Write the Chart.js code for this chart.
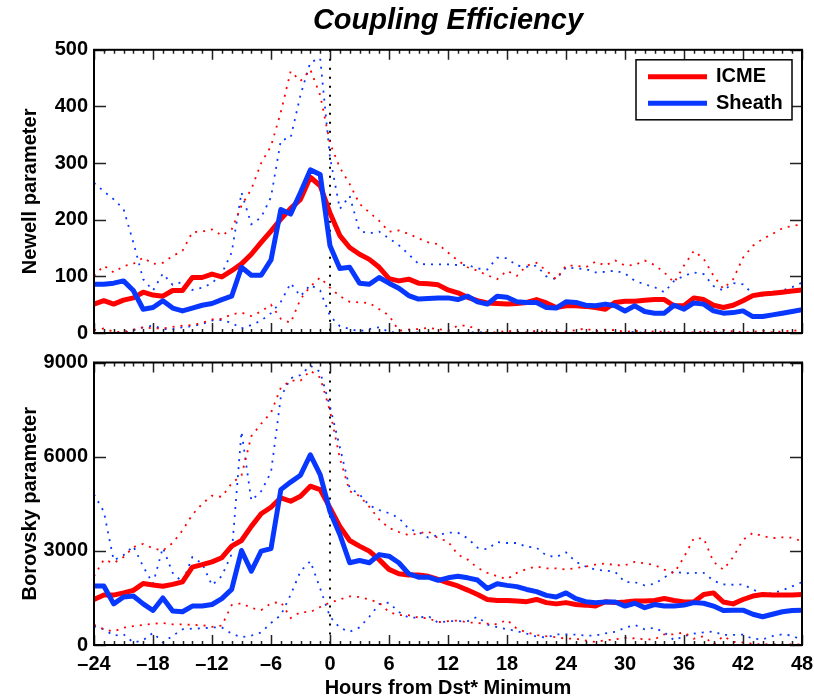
<!DOCTYPE html>
<html lang="en">
<head>
  <meta charset="UTF-8" />
  <title>Coupling Efficiency</title>
  <script src="https://cdn.jsdelivr.net/npm/chart.js"></script>
  <style>
    html, body { margin: 0; padding: 0; background: #fff; }
    #wrap { position: relative; width: 814px; height: 698px; }
    #newellChart { position: absolute; left: 0; top: 0; }
    #borovskyChart { position: absolute; left: 0; top: 345px; }
  </style>
</head>
<body>
  <div id="wrap">
    <canvas id="newellChart" width="814" height="345"></canvas>
    <canvas id="borovskyChart" width="814" height="353"></canvas>
  </div>

  <script>
    // hours from Dst* minimum
    const hours = [-24, -23, -22, -21, -20, -19, -18, -17, -16, -15, -14, -13, -12, -11, -10, -9, -8, -7, -6, -5, -4, -3, -2, -1, 0,
      1, 2, 3, 4, 5, 6, 7, 8, 9, 10, 11, 12, 13, 14, 15, 16, 17, 18, 19, 20, 21, 22, 23, 24,
      25, 26, 27, 28, 29, 30, 31, 32, 33, 34, 35, 36, 37, 38, 39, 40, 41, 42, 43, 44, 45, 46, 47, 48];

    const xTicks = [-24, -18, -12, -6, 0, 6, 12, 18, 24, 30, 36, 42, 48];
    const newellTicks = [0, 100, 200, 300, 400, 500];
    const borovskyTicks = [0, 3000, 6000, 9000];

    // Newell parameter (top panel)
    const newellIcme = [51, 57, 51, 58, 62, 72, 67, 65, 75, 75, 98, 98, 104, 99, 110, 122, 139, 160, 180, 201, 220, 236, 275, 260, 212,
      172, 151, 139, 130, 116, 96, 92, 95, 88, 87, 85, 76, 71, 63, 57, 53, 52, 51, 52, 54, 59, 53, 45, 48,
      48, 47, 45, 42, 54, 56, 56, 58, 59, 59, 48, 48, 62, 59, 49, 45, 49, 57, 66, 69, 70, 72, 74, 76];
    const newellSheath = [86, 86, 88, 92, 75, 42, 45, 57, 44, 39, 44, 49, 52, 59, 65, 116, 102, 102, 129, 218, 210, 248, 288, 280, 154,
      114, 116, 88, 86, 98, 88, 79, 66, 60, 61, 62, 62, 59, 65, 55, 51, 65, 63, 55, 54, 54, 45, 44, 55,
      54, 49, 48, 51, 48, 39, 48, 38, 35, 35, 49, 42, 53, 51, 39, 35, 36, 39, 29, 29, 32, 35, 38, 41];
    const newellIcmeHi = [101, 119, 107, 118, 122, 133, 122, 124, 136, 145, 178, 179, 183, 172, 183, 225, 254, 300, 330, 390, 462, 445, 465, 420, 335,
      292, 263, 228, 213, 198, 179, 181, 175, 167, 160, 157, 142, 128, 116, 110, 102, 95, 110, 101, 119, 124, 110, 95, 119,
      119, 116, 126, 119, 128, 119, 120, 128, 120, 107, 89, 119, 145, 131, 101, 78, 95, 133, 154, 166, 175, 185, 189, 192];
    const newellIcmeLo = [5, 8, 2, 2, 6, 10, 8, 8, 11, 13, 14, 18, 24, 25, 33, 36, 30, 38, 50, 25, 18, 60, 82, 98, 80,
      65, 55, 54, 53, 42, 31, 4, 6, 7, 9, 7, 4, 13, 13, 6, 1, 1, 4, 2, 1, 4, 1, 1, 3,
      5, 8, 3, 6, 5, 2, 4, 1, 3, 2, 0, 2, 1, 3, 0, 5, 3, 1, 2, 4, 1, 3, 4, 5];
    const newellSheathHi = [265, 250, 236, 219, 160, 95, 75, 105, 85, 90, 76, 80, 88, 105, 142, 248, 192, 204, 240, 340, 345, 420, 478, 485, 310,
      219, 242, 180, 176, 179, 167, 155, 139, 122, 121, 121, 121, 120, 120, 114, 112, 133, 132, 119, 117, 119, 100, 95, 116,
      114, 113, 107, 108, 110, 105, 92, 86, 81, 72, 92, 101, 107, 104, 83, 75, 88, 86, 69, 66, 69, 75, 81, 89];
    const newellSheathLo = [0, 0, 0, 0, 5, 10, 13, 7, 7, 10, 12, 16, 22, 23, 18, 8, 14, 22, 35, 55, 88, 65, 85, 75, 30,
      12, 7, 3, 7, 10, 2, 0, 0, 1, 0, 0, 1, 0, 0, 2, 0, 0, 0, 0, 0, 1, 0, 0, 0,
      0, 0, 1, 0, 0, 0, 2, 0, 0, 1, 0, 0, 0, 0, 0, 1, 0, 0, 0, 0, 0, 0, 0, 0];

    // Borovsky parameter (bottom panel)
    const borovskyIcme = [1450, 1590, 1590, 1660, 1740, 1960, 1910, 1870, 1930, 2010, 2480, 2560, 2650, 2780, 3150, 3330, 3780, 4180, 4390, 4690, 4580, 4740, 5060, 4950, 4370,
      3780, 3330, 3150, 2990, 2720, 2410, 2270, 2230, 2230, 2190, 2090, 1980, 1880, 1750, 1610, 1450, 1420, 1420, 1400, 1380, 1450, 1350, 1310, 1350,
      1290, 1270, 1240, 1380, 1350, 1370, 1400, 1400, 1420, 1480, 1420, 1370, 1370, 1610, 1660, 1370, 1310, 1450, 1560, 1610, 1590, 1590, 1590, 1610];
    const borovskySheath = [1880, 1880, 1310, 1530, 1560, 1310, 1100, 1500, 1080, 1060, 1240, 1240, 1290, 1480, 1770, 3010, 2350, 2990, 3070, 4950, 5190, 5410, 6060, 5430, 4250,
      3520, 2620, 2690, 2620, 2880, 2830, 2620, 2270, 2160, 2160, 2060, 2140, 2190, 2140, 2070, 1800, 1950, 1900, 1860, 1770, 1700, 1580, 1530, 1660,
      1480, 1380, 1350, 1370, 1370, 1240, 1330, 1190, 1290, 1240, 1240, 1270, 1350, 1330, 1240, 1100, 1110, 1110, 980, 900, 980, 1060, 1100, 1110];
    const borovskyIcmeHi = [2190, 2720, 2610, 2800, 3120, 3220, 3080, 3010, 3250, 3650, 4150, 4500, 4760, 4720, 5150, 5400, 6650, 7050, 7400, 8200, 8420, 8420, 8740, 8520, 7450,
      5950, 4900, 4750, 4400, 4000, 3730, 3600, 3500, 3550, 3620, 3400, 3300, 2880, 2720, 2460, 2300, 2190, 2100, 2300, 2420, 2500, 2440, 2440, 2400,
      2450, 2500, 2560, 2600, 2540, 2540, 2650, 2600, 2550, 2400, 2290, 2800, 3400, 3400, 2650, 2400, 2800, 3350, 3570, 3470, 3400, 3430, 3420, 3300];
    const borovskyIcmeLo = [650, 500, 430, 550, 600, 640, 680, 700, 660, 660, 640, 630, 580, 620, 1270, 1330, 1180, 1110, 1330, 1370, 860, 1050, 1050, 1210, 1350,
      1450, 1550, 1530, 1450, 1350, 1050, 950, 950, 870, 850, 730, 760, 780, 720, 700, 680, 660, 800, 520, 400, 320, 280, 250, 200,
      200, 140, 100, 150, 180, 230, 210, 180, 180, 340, 340, 400, 200, 280, 20, 280, 100, 80, 40, 20, 30, 20, 20, 20];
    const borovskySheathHi = [4800, 4250, 2700, 2860, 3150, 2500, 1950, 3100, 2300, 2000, 2800, 2600, 1900, 2200, 2900, 6800, 4600, 4900, 5500, 7900, 8500, 8600, 8900, 8700, 7600,
      6300, 5000, 4800, 4450, 4300, 4200, 4050, 3700, 3600, 3420, 3500, 3580, 3580, 3400, 3100, 3050, 3280, 3250, 3250, 3130, 3100, 2850, 2800, 2950,
      2650, 2500, 2400, 2370, 2330, 2000, 2000, 1900, 1950, 2150, 2350, 2280, 2300, 2300, 2050, 1930, 1920, 1930, 1770, 1630, 1650, 1740, 1870, 2000];
    const borovskySheathLo = [600, 500, 300, 340, 80, 150, 390, 80, 290, 500, 520, 530, 560, 560, 360, 250, 300, 400, 700, 950, 1600, 2350, 2670, 1800, 900,
      550, 420, 560, 900, 1300, 1350, 1050, 870, 870, 920, 710, 760, 760, 760, 900, 650, 570, 500, 445, 360, 270, 240, 340, 340,
      330, 300, 300, 370, 420, 550, 640, 500, 550, 400, 150, 280, 360, 400, 430, 320, 320, 330, 200, 180, 280, 340, 300, 150];

    const RED = "rgb(255, 0, 0)";
    const BLUE = "rgb(8, 56, 255)";
    const FONT = "'Liberation Sans', Arial, Helvetica, sans-serif";

    Chart.defaults.font.family = FONT;
    Chart.defaults.color = "#000";

    const pts = (ys) => hours.map((h, i) => ({ x: h, y: ys[i] }));

    function mainLine(label, ys, color, order) {
      return { label: label, data: pts(ys), borderColor: color, backgroundColor: color,
        borderWidth: 5, pointRadius: 0, tension: 0, borderJoinStyle: "round", order: order };
    }
    function dotLine(ys, color) {
      return { label: "", data: pts(ys), borderColor: color, borderWidth: 1.8,
        borderDash: [2, 6], pointRadius: 0, tension: 0, order: 5, quartile: true };
    }

    // frame, inward ticks (MATLAB style) and the dotted line at t = 0
    const frame = {
      id: "frame",
      beforeDatasetsDraw(chart) {
        const { ctx, chartArea: a, scales: { x } } = chart;
        const px = x.getPixelForValue(0);
        ctx.save();
        ctx.strokeStyle = "#000";
        ctx.lineWidth = 2;
        ctx.setLineDash([2, 7]);
        ctx.beginPath();
        ctx.moveTo(px, a.top);
        ctx.lineTo(px, a.bottom);
        ctx.stroke();
        ctx.restore();
      },
      afterDatasetsDraw(chart) {
        const { ctx, chartArea: a, scales: { x, y } } = chart;
        ctx.save();
        ctx.strokeStyle = "#222";
        ctx.lineWidth = 1.5;
        ctx.beginPath();
        for (let h = x.min; h <= x.max; h++) {
          const px = Math.round(x.getPixelForValue(h)) + 0.5;
          const len = h % 6 === 0 ? 10 : 4;
          ctx.moveTo(px, a.top); ctx.lineTo(px, a.top + len);
          ctx.moveTo(px, a.bottom); ctx.lineTo(px, a.bottom - len);
        }
        y.ticks.forEach((t) => {
          const py = Math.round(y.getPixelForValue(t.value)) + 0.5;
          ctx.moveTo(a.left, py); ctx.lineTo(a.left + 12, py);
          ctx.moveTo(a.right, py); ctx.lineTo(a.right - 12, py);
        });
        ctx.stroke();
        ctx.strokeStyle = "#000";
        ctx.lineWidth = 2;
        ctx.strokeRect(a.left, a.top, a.right - a.left, a.bottom - a.top);
        ctx.restore();
      }
    };

    // boxed legend inside the upper right corner
    const boxLegend = {
      id: "boxLegend",
      afterDraw(chart) {
        const { ctx, chartArea: a } = chart;
        const items = chart.data.datasets.filter((d) => !d.quartile);
        const w = 156, h = 60;
        const left = a.right - 10 - w, top = a.top + 10;
        ctx.save();
        ctx.fillStyle = "#fff";
        ctx.fillRect(left, top, w, h);
        ctx.strokeStyle = "#000";
        ctx.lineWidth = 1.5;
        ctx.strokeRect(left, top, w, h);
        ctx.font = "bold 20px " + FONT;
        ctx.textBaseline = "middle";
        items.forEach((d, i) => {
          const yy = top + 17 + i * 26.5;
          ctx.strokeStyle = d.borderColor;
          ctx.lineWidth = 5;
          ctx.beginPath();
          ctx.moveTo(left + 12, yy);
          ctx.lineTo(left + 71, yy);
          ctx.stroke();
          ctx.fillStyle = "#000";
          ctx.fillText(d.label, left + 80, yy);
        });
        ctx.restore();
      }
    };

    const dash = (v) => (v < 0 ? "\u2013" + Math.abs(v) : String(v));

    function yAxis(title, ticks) {
      return {
        type: "linear",
        min: ticks[0],
        max: ticks[ticks.length - 1],
        afterBuildTicks: (s) => { s.ticks = ticks.map((v) => ({ value: v })); },
        afterFit: (s) => { s.width = 94; s.paddingTop = 0; s.paddingBottom = 0; },
        grid: { display: false, drawTicks: false },
        border: { display: false },
        ticks: { padding: 6, font: { size: 20, weight: "bold" }, color: "#000", callback: (v) => String(v) },
        title: { display: true, text: title, font: { size: 20, weight: "bold" }, color: "#000", padding: { top: 18, bottom: 0 } }
      };
    }

    function xAxis(show) {
      return {
        type: "linear",
        min: hours[0],
        max: hours[hours.length - 1],
        display: show,
        afterBuildTicks: (s) => { s.ticks = xTicks.map((v) => ({ value: v })); },
        afterFit: (s) => { s.height = show ? 53 : 0; s.paddingLeft = 0; s.paddingRight = 0; },
        grid: { display: false, drawTicks: false },
        border: { display: false },
        ticks: { padding: 7, autoSkip: false, maxRotation: 0, font: { size: 20, weight: "bold" }, color: "#000", callback: dash },
        title: { display: true, text: "Hours from Dst* Minimum", font: { size: 20, weight: "bold", lineHeight: 1 }, color: "#000", padding: 0 }
      };
    }

    const common = {
      responsive: false,
      animation: false,
      events: [],
      plugins: { legend: { display: false }, tooltip: { enabled: false } }
    };

    new Chart(document.getElementById("newellChart"), {
      type: "line",
      data: {
        datasets: [
          mainLine("ICME", newellIcme, RED, 2),
          mainLine("Sheath", newellSheath, BLUE, 1),
          dotLine(newellIcmeHi, RED),
          dotLine(newellIcmeLo, RED),
          dotLine(newellSheathHi, BLUE),
          dotLine(newellSheathLo, BLUE)
        ]
      },
      options: {
        ...common,
        layout: { padding: { left: 0, right: 12, top: 0, bottom: 12 } },
        plugins: {
          ...common.plugins,
          title: {
            display: true,
            text: "Coupling Efficiency",
            fullSize: false,
            color: "#000",
            font: { size: 29, weight: "bold", style: "italic" },
            padding: { top: 4, bottom: 11 }
          }
        },
        scales: { x: xAxis(false), y: yAxis("Newell parameter", newellTicks) }
      },
      plugins: [frame, boxLegend]
    });

    new Chart(document.getElementById("borovskyChart"), {
      type: "line",
      data: {
        datasets: [
          mainLine("ICME", borovskyIcme, RED, 2),
          mainLine("Sheath", borovskySheath, BLUE, 1),
          dotLine(borovskyIcmeHi, RED),
          dotLine(borovskyIcmeLo, RED),
          dotLine(borovskySheathHi, BLUE),
          dotLine(borovskySheathLo, BLUE)
        ]
      },
      options: {
        ...common,
        layout: { padding: { left: 0, right: 12, top: 17.5, bottom: 0 } },
        scales: { x: xAxis(true), y: yAxis("Borovsky parameter", borovskyTicks) }
      },
      plugins: [frame]
    });
  </script>
</body>
</html>
